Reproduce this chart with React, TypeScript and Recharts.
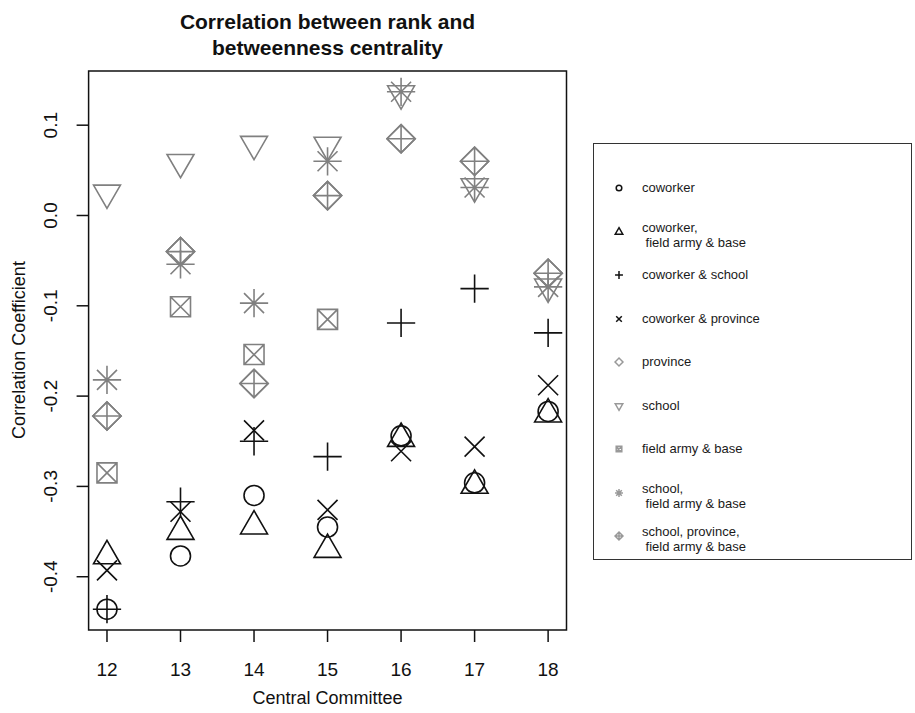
import React from 'react';
import {
  ScatterChart,
  Scatter,
  XAxis,
  YAxis,
  ReferenceArea,
  Legend,
} from 'recharts';

// Central Committee sessions (x) and y axis ticks
const committees = [12, 13, 14, 15, 16, 17, 18];
const yTicks = [-0.4, -0.3, -0.2, -0.1, 0, 0.1];
const yTickLabels = ['-0.4', '-0.3', '-0.2', '-0.1', '0.0', '0.1'];

// correlation coefficients per tie type, one value per committee (null = not drawn)
const coworker = [-0.436, -0.377, -0.31, -0.345, -0.244, -0.296, -0.217];
const coworkerFieldArmy = [-0.377, -0.35, -0.344, -0.37, -0.247, -0.299, -0.22];
const coworkerSchool = [-0.436, -0.317, -0.25, -0.267, -0.119, -0.081, -0.13];
const coworkerProvince = [-0.393, -0.328, -0.238, -0.326, -0.261, -0.256, -0.188];
const province = [-0.222, -0.04, -0.186, 0.022, 0.085, 0.06, -0.064];
const school = [0.025, 0.059, 0.079, 0.078, 0.135, 0.032, -0.079];
const fieldArmy = [-0.285, -0.101, -0.154, -0.115, null, null, null];
const schoolFieldArmy = [-0.182, -0.054, -0.097, 0.06, 0.137, 0.031, -0.079];
const schoolProvinceFieldArmy = [-0.222, -0.04, -0.186, 0.022, 0.085, 0.06, -0.064];

const BLACK = '#111';
const GREY = '#808080';

type Kind = 'circle' | 'triUp' | 'plus' | 'cross' | 'diamond' | 'triDown' | 'boxX' | 'star' | 'diamondPlus';

const series: Array<{ key: string; label: string[]; values: (number | null)[]; kind: Kind; color: string }> = [
  { key: 'c', label: ['coworker'], values: coworker, kind: 'circle', color: BLACK },
  { key: 'cf', label: ['coworker,', ' field army & base'], values: coworkerFieldArmy, kind: 'triUp', color: BLACK },
  { key: 'cs', label: ['coworker & school'], values: coworkerSchool, kind: 'plus', color: BLACK },
  { key: 'cp', label: ['coworker & province'], values: coworkerProvince, kind: 'cross', color: BLACK },
  { key: 'p', label: ['province'], values: province, kind: 'diamond', color: GREY },
  { key: 's', label: ['school'], values: school, kind: 'triDown', color: GREY },
  { key: 'f', label: ['field army & base'], values: fieldArmy, kind: 'boxX', color: GREY },
  { key: 'sf', label: ['school,', ' field army & base'], values: schoolFieldArmy, kind: 'star', color: GREY },
  { key: 'spf', label: ['school, province,', ' field army & base'], values: schoolProvinceFieldArmy, kind: 'diamondPlus', color: GREY },
];

// R-style plotting symbols (pch 1..9)
function Pch({ kind, cx, cy, s, color, sw }: { kind: Kind; cx: number; cy: number; s: number; color: string; sw: number }) {
  const d = Math.SQRT2 * s;
  const r = 1.555 * s;
  const tx = 1.347 * s;
  const ty = 0.778 * s;
  const plus = (a: number) => `M${cx - a},${cy}L${cx + a},${cy}M${cx},${cy - a}L${cx},${cy + a}`;
  const cross = (a: number) => `M${cx - a},${cy - a}L${cx + a},${cy + a}M${cx - a},${cy + a}L${cx + a},${cy - a}`;
  const diamond = `M${cx - d},${cy}L${cx},${cy - d}L${cx + d},${cy}L${cx},${cy + d}Z`;
  const common = { fill: 'none', stroke: color, strokeWidth: sw };
  switch (kind) {
    case 'circle':
      return <circle cx={cx} cy={cy} r={s} {...common} />;
    case 'triUp':
      return <path d={`M${cx},${cy - r}L${cx + tx},${cy + ty}L${cx - tx},${cy + ty}Z`} {...common} />;
    case 'triDown':
      return <path d={`M${cx},${cy + r}L${cx + tx},${cy - ty}L${cx - tx},${cy - ty}Z`} {...common} />;
    case 'plus':
      return <path d={plus(d)} {...common} />;
    case 'cross':
      return <path d={cross(s)} {...common} />;
    case 'diamond':
      return <path d={diamond} {...common} />;
    case 'boxX':
      return <path d={`M${cx - s},${cy - s}H${cx + s}V${cy + s}H${cx - s}Z` + cross(s)} {...common} />;
    case 'star':
      return <path d={plus(d) + cross(s)} {...common} />;
    case 'diamondPlus':
      return <path d={diamond + plus(d)} {...common} />;
  }
  return null;
}

function LegendBox() {
  return (
    <div
      style={{
        position: 'relative',
        width: 317,
        height: 415,
        border: '1.5px solid #333',
        background: '#fff',
        fontFamily: '"Liberation Sans", Arial, sans-serif',
        fontSize: 13,
        color: '#1a1a1a',
      }}
    >
      {series.map((s, i) => {
        const cy = 44 + i * 43.5;
        return (
          <div key={s.key}>
            <svg style={{ position: 'absolute', left: 15, top: cy - 10 }} width={20} height={20}>
              <Pch kind={s.kind} cx={10} cy={10} s={2.8} color={s.color === GREY ? '#999' : BLACK} sw={1.5} />
            </svg>
            {s.label.map((line, j) => (
              <div
                key={j}
                style={{
                  position: 'absolute',
                  left: 48,
                  top: (s.label.length === 1 ? cy : cy - 4 + j * 15) - 8,
                  whiteSpace: 'pre',
                  lineHeight: '16px',
                }}
              >
                {line}
              </div>
            ))}
          </div>
        );
      })}
    </div>
  );
}

const FONT = '"Liberation Sans", Arial, sans-serif';

export default function App() {
  return (
    <div style={{ position: 'absolute', left: 0, top: 0, width: 915, height: 713, background: '#fff' }}>
      <div
        style={{
          position: 'absolute',
          left: 0,
          top: 9,
          width: 655,
          textAlign: 'center',
          fontFamily: FONT,
          fontWeight: 'bold',
          fontSize: 21,
          lineHeight: '26px',
          color: '#111',
        }}
      >
        Correlation between rank and
        <br />
        betweenness centrality
      </div>
      <ScatterChart width={915} height={713} margin={{ top: 71, right: 348.5, bottom: 23, left: 28.6 }}>
        <XAxis
          type="number"
          dataKey="x"
          domain={[11.75, 18.25]}
          ticks={committees}
          allowDataOverflow
          axisLine={false}
          tickLine={{ stroke: '#111', strokeWidth: 1.5 }}
          tickSize={12}
          height={60}
          tick={({ x, payload }: any) => (
            <text x={x} y={676} textAnchor="middle" fontFamily={FONT} fontSize={19} fill="#111">
              {payload.value}
            </text>
          )}
          label={{
            content: () => (
              <text x={327.5} y={704} textAnchor="middle" fontFamily={FONT} fontSize={18} fill="#111">
                Central Committee
              </text>
            ),
          }}
        />
        <YAxis
          type="number"
          dataKey="y"
          domain={[-0.459, 0.16]}
          ticks={yTicks}
          allowDataOverflow
          axisLine={false}
          tickLine={{ stroke: '#111', strokeWidth: 1.5 }}
          tickSize={12}
          width={60}
          tick={({ y, payload }: any) => {
            const label = yTickLabels[yTicks.indexOf(payload.value)];
            return (
              <text
                x={57}
                y={y}
                transform={`rotate(-90, 57, ${y})`}
                textAnchor="middle"
                fontFamily={FONT}
                fontSize={19}
                fill="#111"
              >
                {label}
              </text>
            );
          }}
          label={{
            content: () => (
              <text
                x={25}
                y={350}
                transform="rotate(-90, 25, 350)"
                textAnchor="middle"
                fontFamily={FONT}
                fontSize={18}
                fill="#111"
              >
                Correlation Coefficient
              </text>
            ),
          }}
        />
        <ReferenceArea x1={11.75} x2={18.25} y1={-0.459} y2={0.16} fill="none" stroke="#111" strokeWidth={1.5} ifOverflow="visible" />
        {series.map((s) => (
          <Scatter
            key={s.key}
            name={s.key}
            data={committees
              .map((c, i) => ({ x: c, y: s.values[i] }))
              .filter((p) => p.y !== null)}
            isAnimationActive={false}
            shape={(props: any) => <Pch kind={s.kind} cx={props.cx} cy={props.cy} s={10} color={s.color} sw={1.6} />}
          />
        ))}
        <Legend
          layout="vertical"
          align="center"
          verticalAlign="middle"
          wrapperStyle={{ left: 593, top: 143, width: 320, height: 418 }}
          content={() => <LegendBox />}
        />
      </ScatterChart>
    </div>
  );
}
